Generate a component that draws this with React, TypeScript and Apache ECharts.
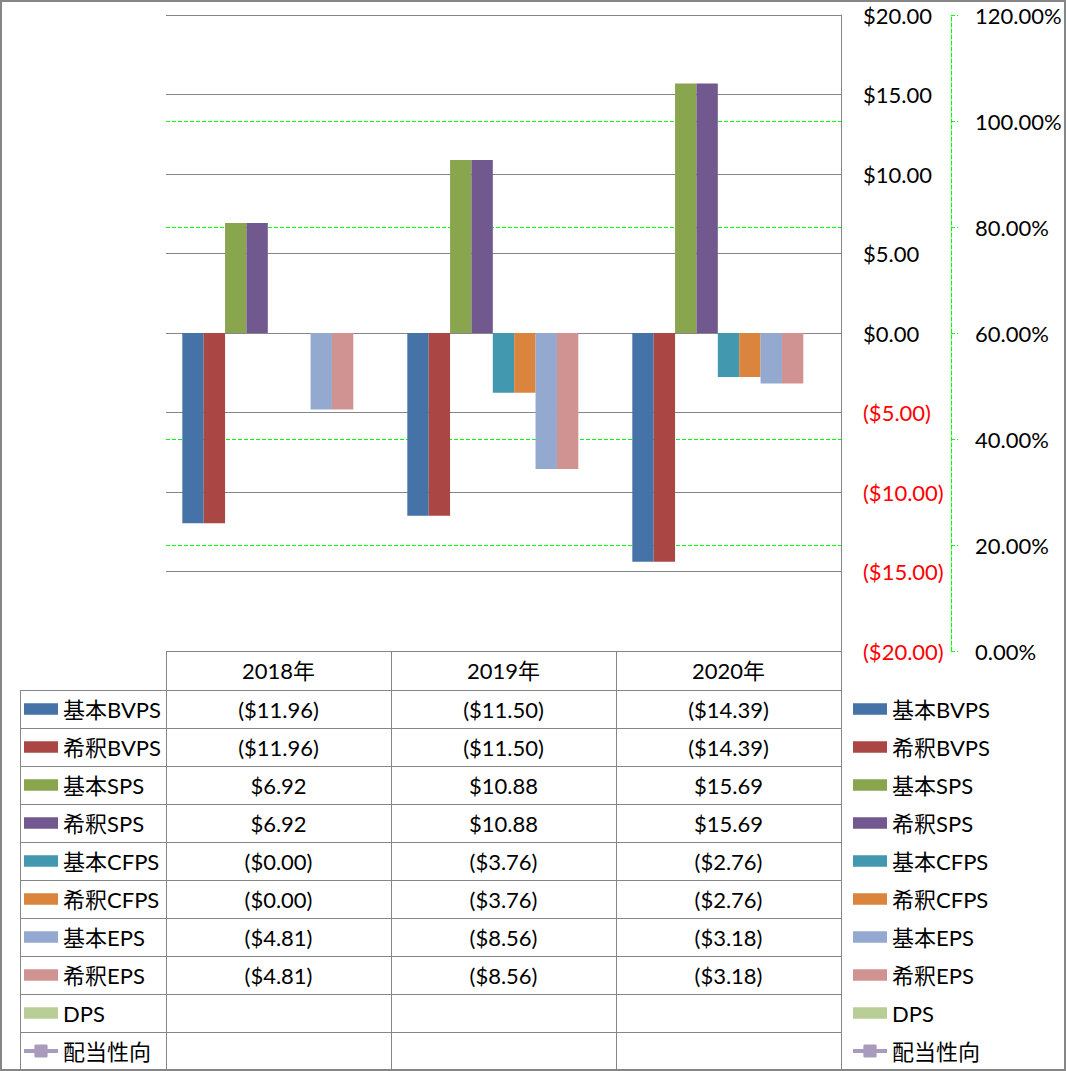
import React, { useEffect, useRef } from 'react';
import * as echarts from 'echarts';

const categories = ['2018年', '2019年', '2020年'];
const seriesNames = ['基本BVPS', '希釈BVPS', '基本SPS', '希釈SPS', '基本CFPS', '希釈CFPS', '基本EPS', '希釈EPS', 'DPS', '配当性向'];
const basicBVPS = [-11.96, -11.5, -14.39];
const dilutedBVPS = [-11.96, -11.5, -14.39];
const basicSPS = [6.92, 10.88, 15.69];
const dilutedSPS = [6.92, 10.88, 15.69];
const basicCFPS = [-0.003, -3.76, -2.76];
const dilutedCFPS = [-0.003, -3.76, -2.76];
const basicEPS = [-4.81, -8.56, -3.18];
const dilutedEPS = [-4.81, -8.56, -3.18];
const dps: (number | null)[] = [null, null, null];
const payoutRatio: (number | null)[] = [null, null, null];
const barValues = [basicBVPS, dilutedBVPS, basicSPS, dilutedSPS, basicCFPS, dilutedCFPS, basicEPS, dilutedEPS, dps];
const colors = ['#4572A7', '#AA4643', '#89A54E', '#71588F', '#4198AF', '#DB843D', '#93A9CF', '#D19392', '#B9CD96', '#A99BBD'];

const FONT = "Lato, 'Noto Sans CJK JP', sans-serif";
const FS = 22;
const GRAY = '#868686';
const GREEN = '#00FF00';
const W = 1066;
const H = 1071;
const GRID_LEFT = 166;
const GRID_RIGHT = 841;
const GRID_TOP = 15;
const GRID_BOTTOM = 651;
const HEADER_H = 39;
const ROW_H = 38;
const TABLE_LEFT = 20;

const BAR_ICON = 'path://M0,0H32V11H0Z';
const LINE_ICON = 'path://M0,5H11V1.5Q11,0,12.5,0H23.5Q25,0,25,1.5V5H36V9H25V12.5Q25,14,23.5,14H12.5Q11,14,11,12.5V9H0Z';

const fmtMoney = (v: number | null) => {
  if (v == null) return '';
  const s = '$' + Math.abs(v).toFixed(2);
  return v < 0 ? '(' + s + ')' : s;
};

export default function App() {
  const ref = useRef<HTMLDivElement>(null);
  useEffect(() => {
    document.body.style.margin = '0';
    const chart = echarts.init(ref.current!, null, { renderer: 'svg' });
    const legendData = seriesNames.map((n, i) => ({ name: n, icon: i < 9 ? BAR_ICON : LINE_ICON }));
    const legendBase = {
      orient: 'vertical',
      top: GRID_BOTTOM + HEADER_H + ROW_H / 2 - 11,
      itemWidth: 34,
      itemHeight: 14,
      itemGap: ROW_H - 22,
      padding: 0,
      selectedMode: false,
      textStyle: { fontFamily: FONT, fontSize: FS, lineHeight: 22, color: '#000' },
      data: legendData,
    };
    const series: any[] = barValues.map((vals, i) => ({
      type: 'bar',
      name: seriesNames[i],
      data: vals,
      barGap: '0%',
      barCategoryGap: '14.5%',
      itemStyle: { color: colors[i] },
      z: 3,
    }));
    series.push({
      type: 'line',
      name: seriesNames[9],
      yAxisIndex: 1,
      data: payoutRatio,
      symbol: 'roundRect',
      symbolSize: 14,
      itemStyle: { color: colors[9] },
      lineStyle: { color: colors[9], width: 4 },
    });
    const option: any = {
      animation: false,
      color: colors,
      textStyle: { fontFamily: FONT },
      grid: { left: GRID_LEFT, right: W - GRID_RIGHT, top: GRID_TOP, bottom: H - GRID_BOTTOM, containLabel: false },
      legend: [
        { ...legendBase, left: 853 },
        { ...legendBase, left: 24 },
      ],
      xAxis: {
        type: 'category',
        data: categories,
        axisLine: { show: false },
        axisTick: { show: false },
        axisLabel: { show: false },
        splitLine: { show: false },
      },
      yAxis: [
        {
          type: 'value',
          position: 'right',
          min: -20,
          max: 20,
          interval: 5,
          z: 2,
          axisLine: { show: true, lineStyle: { color: GRAY, width: 1 } },
          axisTick: { show: false },
          axisLabel: {
            margin: 22,
            fontSize: FS,
            fontFamily: FONT,
            formatter: (v: number) => fmtMoney(v),
            color: (v: any) => (Number(v) < 0 ? '#FF0000' : '#000000'),
          },
          splitLine: { show: true, lineStyle: { color: GRAY, width: 1 } },
        },
        {
          type: 'value',
          position: 'right',
          offset: 110,
          min: 0,
          max: 1.2,
          interval: 0.2,
          z: 1,
          axisLine: { show: true, lineStyle: { color: GREEN, width: 1, type: [4, 2] } },
          axisTick: { show: true, length: 7, inside: false, lineStyle: { color: GREEN, width: 1, type: [4, 2] } },
          axisLabel: {
            margin: 24,
            fontSize: FS,
            fontFamily: FONT,
            color: '#000',
            formatter: (v: number) => (v * 100).toFixed(2) + '%',
          },
          splitLine: { show: true, lineStyle: { color: GREEN, width: 1, type: [4, 2] } },
        },
      ],
      series,
    };
    chart.setOption(option);

    const band = (GRID_RIGHT - GRID_LEFT) / categories.length;
    const centers = categories.map((c) => chart.convertToPixel({ xAxisIndex: 0 }, c) as number);
    const tableBottom = GRID_BOTTOM + HEADER_H + ROW_H * seriesNames.length;
    const g: any[] = [];
    const line = (x1: number, y1: number, x2: number, y2: number) =>
      g.push({ type: 'line', z: 10, shape: { x1, y1, x2, y2 }, style: { stroke: GRAY, lineWidth: 1 } });
    const text = (t: string, x: number, y: number) =>
      g.push({
        type: 'text', z: 10, x, y,
        style: { text: t, fill: '#000', font: `${FS}px ${FONT}`, align: 'center', verticalAlign: 'middle' },
      });
    g.push({ type: 'rect', z: 10, shape: { x: 1, y: 1, width: W - 2, height: H - 2 }, style: { fill: 'none', stroke: GRAY, lineWidth: 2 } });
    line(GRID_LEFT, GRID_BOTTOM + 0.5, GRID_RIGHT + 1, GRID_BOTTOM + 0.5);
    for (let r = 0; r <= seriesNames.length; r++) {
      const y = Math.round(GRID_BOTTOM + HEADER_H + r * ROW_H) + 0.5;
      line(TABLE_LEFT, y, GRID_RIGHT + 1, y);
    }
    line(TABLE_LEFT + 0.5, GRID_BOTTOM + HEADER_H, TABLE_LEFT + 0.5, tableBottom);
    centers.forEach((cx, i) => {
      const xl = Math.round(cx - band / 2) + 0.5;
      line(xl, GRID_BOTTOM, xl, tableBottom);
      if (i === centers.length - 1) {
        const xr = Math.round(cx + band / 2) + 0.5;
        line(xr, GRID_BOTTOM, xr, tableBottom);
      }
      text(categories[i], cx, GRID_BOTTOM + HEADER_H / 2);
      barValues.forEach((vals, r) => {
        text(fmtMoney(vals[i]), cx, GRID_BOTTOM + HEADER_H + r * ROW_H + ROW_H / 2);
      });
    });
    chart.setOption({ graphic: g });
    return () => chart.dispose();
  }, []);
  return <div ref={ref} style={{ width: W, height: H }} />;
}
